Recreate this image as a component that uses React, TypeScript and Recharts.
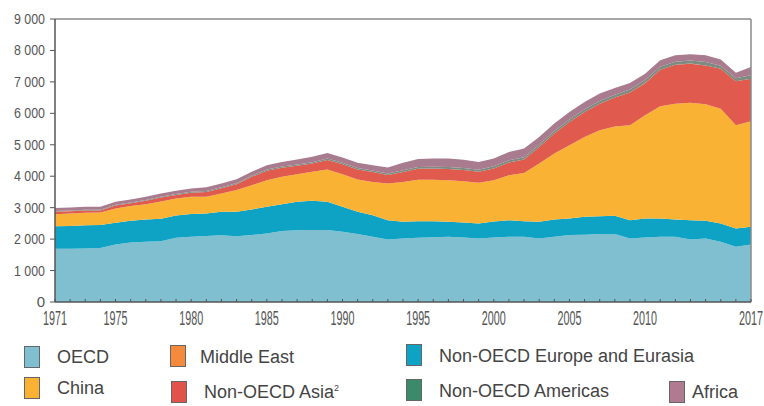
import React from 'react';
import { AreaChart, Area, XAxis, YAxis, ReferenceLine } from 'recharts';

// ---- data (Mt) ----
const years = [
  1971, 1972, 1973, 1974, 1975, 1976, 1977, 1978, 1979, 1980,
  1981, 1982, 1983, 1984, 1985, 1986, 1987, 1988, 1989, 1990,
  1991, 1992, 1993, 1994, 1995, 1996, 1997, 1998, 1999, 2000,
  2001, 2002, 2003, 2004, 2005, 2006, 2007, 2008, 2009, 2010,
  2011, 2012, 2013, 2014, 2015, 2016, 2017,
];
const oecd = [
  1690, 1690, 1700, 1720, 1830, 1890, 1915, 1935, 2040, 2075,
  2095, 2125, 2090, 2130, 2180, 2255, 2285, 2290, 2290, 2235,
  2160, 2075, 1990, 2020, 2045, 2060, 2074, 2050, 2021, 2053,
  2074, 2074, 2021, 2074, 2127, 2140, 2159, 2159, 2021, 2053,
  2074, 2074, 1990, 2021, 1915, 1760, 1830,
];
const nonOecdEurope = [
  720, 730, 740, 730, 690, 690, 710, 715, 710, 720,
  720, 745, 780, 815, 850, 855, 900, 930, 900, 795,
  710, 685, 610, 530, 525, 505, 477, 480, 477, 507,
  529, 496, 530, 551, 530, 569, 571, 581, 582, 604,
  583, 551, 613, 561, 583, 579, 562,
];
const china = [
  380, 395, 395, 400, 450, 470, 485, 550, 540, 550,
  535, 580, 690, 770, 845, 870, 880, 920, 1020, 1035,
  1025, 1060, 1170, 1270, 1315, 1325, 1323, 1310, 1291, 1314,
  1429, 1536, 1852, 2095, 2328, 2540, 2731, 2840, 3017, 3280,
  3566, 3682, 3737, 3704, 3651, 3281, 3358,
];
const nonOecdAsia = [
  80, 75, 72, 62, 100, 88, 110, 122, 115, 130,
  150, 170, 185, 265, 300, 290, 270, 265, 305, 315,
  320, 315, 265, 315, 355, 355, 357, 355, 351, 372,
  401, 423, 526, 635, 738, 794, 844, 920, 1044, 1023,
  1160, 1235, 1240, 1236, 1270, 1400, 1351,
];
const middleEast = [
  1, 1, 1, 1, 1, 1, 1, 1, 1, 1,
  1, 1, 1, 1, 1, 1, 1, 1, 1, 1,
  1, 1, 1, 1, 1, 1, 1, 1, 1, 1,
  1, 1, 1, 1, 1, 1, 2, 2, 2, 2,
  2, 2, 2, 2, 2, 2, 2,
];
const nonOecdAmericas = [
  20, 20, 22, 22, 23, 24, 25, 26, 27, 28,
  29, 30, 32, 34, 36, 38, 40, 42, 44, 45,
  46, 48, 50, 52, 55, 58, 62, 64, 65, 68,
  72, 74, 76, 80, 82, 85, 88, 90, 90, 95,
  100, 100, 100, 105, 95, 90, 110,
];
const africa = [
  95, 95, 96, 96, 97, 98, 100, 102, 103, 107,
  116, 120, 123, 126, 139, 147, 155, 168, 181, 170,
  164, 167, 190, 238, 255, 262, 268, 261, 250, 247,
  268, 276, 244, 238, 238, 232, 232, 210, 210, 205,
  200, 200, 200, 215, 200, 180, 260,
];

const yTicks = [0, 1000, 2000, 3000, 4000, 5000, 6000, 7000, 8000, 9000];
const xLabelYears = [1971, 1975, 1980, 1985, 1990, 1995, 2000, 2005, 2010, 2017];

// series (stack order bottom -> top)
const seriesKeys = ['oecd', 'nonOecdEurope', 'china', 'nonOecdAsia', 'middleEast', 'nonOecdAmericas', 'africa'];
const seriesNames = ['OECD', 'Non-OECD Europe and Eurasia', 'China', 'Non-OECD Asia', 'Middle East', 'Non-OECD Americas', 'Africa'];
const seriesColors = ['#80bfcf', '#0ea3c4', '#f9b234', '#e05a4e', '#f5893c', '#7d8b80', '#a87b8e'];

const seriesValues: number[][] = [oecd, nonOecdEurope, china, nonOecdAsia, middleEast, nonOecdAmericas, africa];

const data = years.map((year, i) => {
  const row: Record<string, number> = { year };
  seriesKeys.forEach((k, s) => {
    row[k] = seriesValues[s][i];
  });
  return row;
});

// legend
const legendLabels = ['OECD', 'China', 'Middle East', 'Non-OECD Asia', 'Non-OECD Europe and Eurasia', 'Non-OECD Americas', 'Africa'];
const legendSup = ['', '', '', '2', '', '', ''];
const legendColors = ['#80bfcf', '#f9b234', '#f5893c', '#e0524a', '#0ea3c4', '#3c8a6c', '#b07a90'];
const legendLayout = [
  { sx: 24, sy: 346, tx: 57, ty: 357 },
  { sx: 24, sy: 377, tx: 57, ty: 388 },
  { sx: 170, sy: 345, tx: 200, ty: 357 },
  { sx: 171, sy: 381, tx: 204, ty: 392 },
  { sx: 406, sy: 344, tx: 439, ty: 356 },
  { sx: 406, sy: 379, tx: 439, ty: 391 },
  { sx: 669, sy: 381, tx: 692, ty: 392 },
];

const fmt = (v: number) => (v >= 1000 ? `${Math.floor(v / 1000)} ${String(v % 1000).padStart(3, '0')}` : String(v));

const XTick = (props: any) => {
  const { x, y, payload } = props;
  const v = payload.value as number;
  const show = xLabelYears.includes(v);
  return (
    <g>
      <line x1={x} y1={y} x2={x} y2={y - 3} stroke="#555" strokeWidth={1} />
      {show && (
        <text
          x={x}
          y={y + 23}
          textAnchor="middle"
          fontSize={20}
          fill="#555"
          fontFamily="Liberation Sans, Arial, sans-serif"
          textLength={24}
          lengthAdjust="spacingAndGlyphs"
        >
          {v}
        </text>
      )}
    </g>
  );
};

const YTick = (props: any) => {
  const { x, y, payload } = props;
  const label = fmt(payload.value as number);
  const extra = label.length > 1 ? { textLength: 31, lengthAdjust: 'spacingAndGlyphs' } : {};
  return (
    <text
      x={x}
      y={y + 5}
      textAnchor="end"
      fontSize={15}
      fill="#555"
      fontFamily="Liberation Sans, Arial, sans-serif"
      {...(extra as any)}
    >
      {label}
    </text>
  );
};

export default function App() {
  return (
    <div style={{ position: 'absolute', left: 0, top: 0, width: 764, height: 406, background: '#fff' }}>
      <AreaChart width={764} height={406} data={data} margin={{ top: 19, right: 13, left: 0, bottom: 0 }}>
        <XAxis
          dataKey="year"
          type="number"
          domain={[1971, 2017]}
          ticks={years}
          interval={0}
          height={104}
          tickLine={false}
          tickSize={0}
          tickMargin={0}
          axisLine={{ stroke: '#555', strokeWidth: 1.5 }}
          tick={<XTick />}
        />
        <YAxis
          type="number"
          domain={[0, 9000]}
          ticks={yTicks}
          interval={0}
          width={55}
          tickSize={5}
          tickMargin={5}
          tickLine={{ stroke: '#555' }}
          axisLine={{ stroke: '#555', strokeWidth: 1.5 }}
          tick={<YTick />}
        />
        {seriesKeys.map((k, i) => (
          <Area
            key={k}
            type="linear"
            dataKey={k}
            name={seriesNames[i]}
            stackId="1"
            stroke="none"
            fill={seriesColors[i]}
            fillOpacity={1}
            isAnimationActive={false}
          />
        ))}
        <ReferenceLine y={9000} stroke="#8a8a8a" strokeWidth={1.5} />
        <ReferenceLine x={2017} stroke="#8a8a8a" strokeWidth={1.5} />
      </AreaChart>
      {legendLabels.map((name, i) => {
        const l = legendLayout[i];
        return (
          <React.Fragment key={name}>
            <div
              style={{
                position: 'absolute',
                left: l.sx,
                top: l.sy,
                width: 16,
                height: 22,
                background: legendColors[i],
                border: '1px solid #666',
                boxSizing: 'border-box',
              }}
            />
            <div
              style={{
                position: 'absolute',
                left: l.tx,
                top: l.ty - 11,
                height: 22,
                lineHeight: '22px',
                fontSize: 18,
                fontFamily: 'Liberation Sans, Arial, sans-serif',
                color: '#444',
                whiteSpace: 'nowrap',
              }}
            >
              {name}
              {legendSup[i] && <sup style={{ fontSize: 9, verticalAlign: 'top', lineHeight: '14px' }}>{legendSup[i]}</sup>}
            </div>
          </React.Fragment>
        );
      })}
    </div>
  );
}
